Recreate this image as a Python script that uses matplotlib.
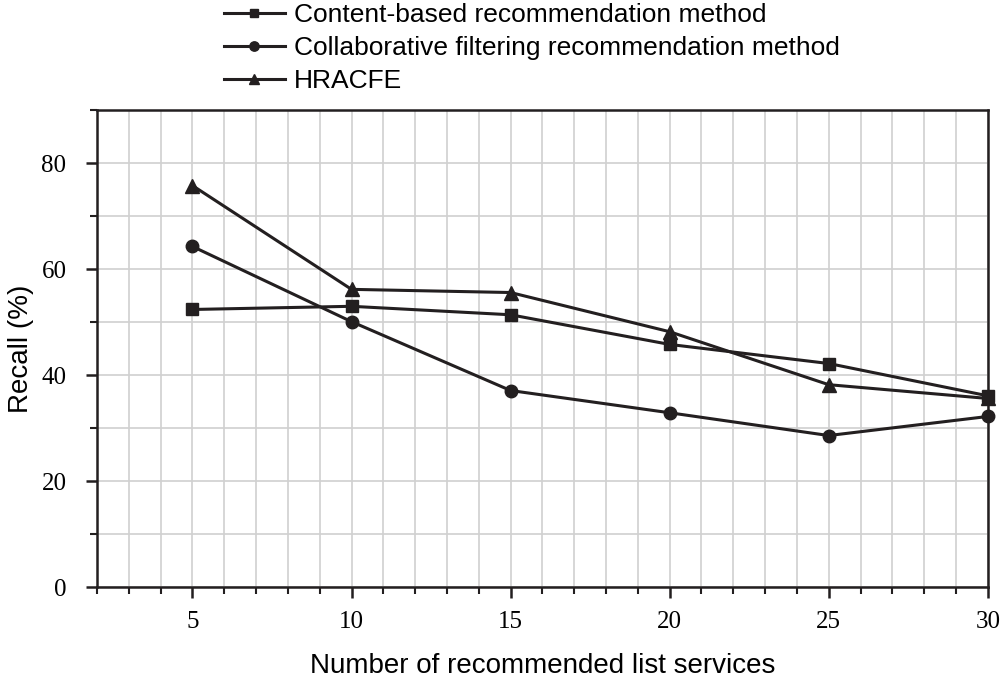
import matplotlib.pyplot as plt
from matplotlib.ticker import MultipleLocator

# dati
n_servizi = [5, 10, 15, 20, 25, 30]
content_based = [52.4, 53.0, 51.4, 45.8, 42.2, 36.1]
collaborative = [64.3, 50.1, 37.1, 32.9, 28.6, 32.2]
hracfe = [75.8, 56.2, 55.6, 48.2, 38.2, 35.6]
etichette = ['Content-based recommendation method',
             'Collaborative filtering recommendation method',
             'HRACFE']

fig = plt.figure(figsize=(10.02, 6.81), dpi=100)
ax = fig.add_axes([0.0968, 0.138, 0.889, 0.700])

colore = '#231f20'
ax.plot(n_servizi, content_based, marker='s', color=colore, lw=2.2, ms=8, label=etichette[0], clip_on=False)
ax.plot(n_servizi, collaborative, marker='o', color=colore, lw=2.2, ms=9, label=etichette[1], clip_on=False)
ax.plot(n_servizi, hracfe, marker='^', color=colore, lw=2.2, ms=10, label=etichette[2], clip_on=False)

ax.set_xlim(2, 30)
ax.set_ylim(0, 90)
ax.xaxis.set_major_locator(MultipleLocator(5))
ax.xaxis.set_minor_locator(MultipleLocator(1))
ax.yaxis.set_major_locator(MultipleLocator(20))
ax.yaxis.set_minor_locator(MultipleLocator(10))
ax.grid(True, which='both', color='#d0d0d0', lw=1.2)
ax.set_axisbelow(True)

for s in ax.spines.values():
    s.set_linewidth(1.8)
    s.set_color(colore)
ax.tick_params(which='major', length=8, width=1.8, color=colore, labelsize=18)
ax.tick_params(axis='y', which='major', pad=14)
ax.tick_params(axis='x', which='major', pad=9)
ax.tick_params(which='minor', length=5, width=1.5, color=colore)
for t in ax.get_xticklabels() + ax.get_yticklabels():
    t.set_fontfamily('Liberation Serif')

ax.set_xlabel('Number of recommended list services', fontsize=20, family='Liberation Sans', labelpad=15)
ax.set_ylabel('Recall (%)', fontsize=20, family='Liberation Sans', labelpad=5)

fig.legend(loc='upper left', bbox_to_anchor=(0.2, 1.03), frameon=False,
           prop={'family': 'Liberation Sans', 'size': 19}, handlelength=2.3,
           labelspacing=0.33, handletextpad=0.35, markerscale=0.75)

fig.savefig('out.png', dpi=100)
